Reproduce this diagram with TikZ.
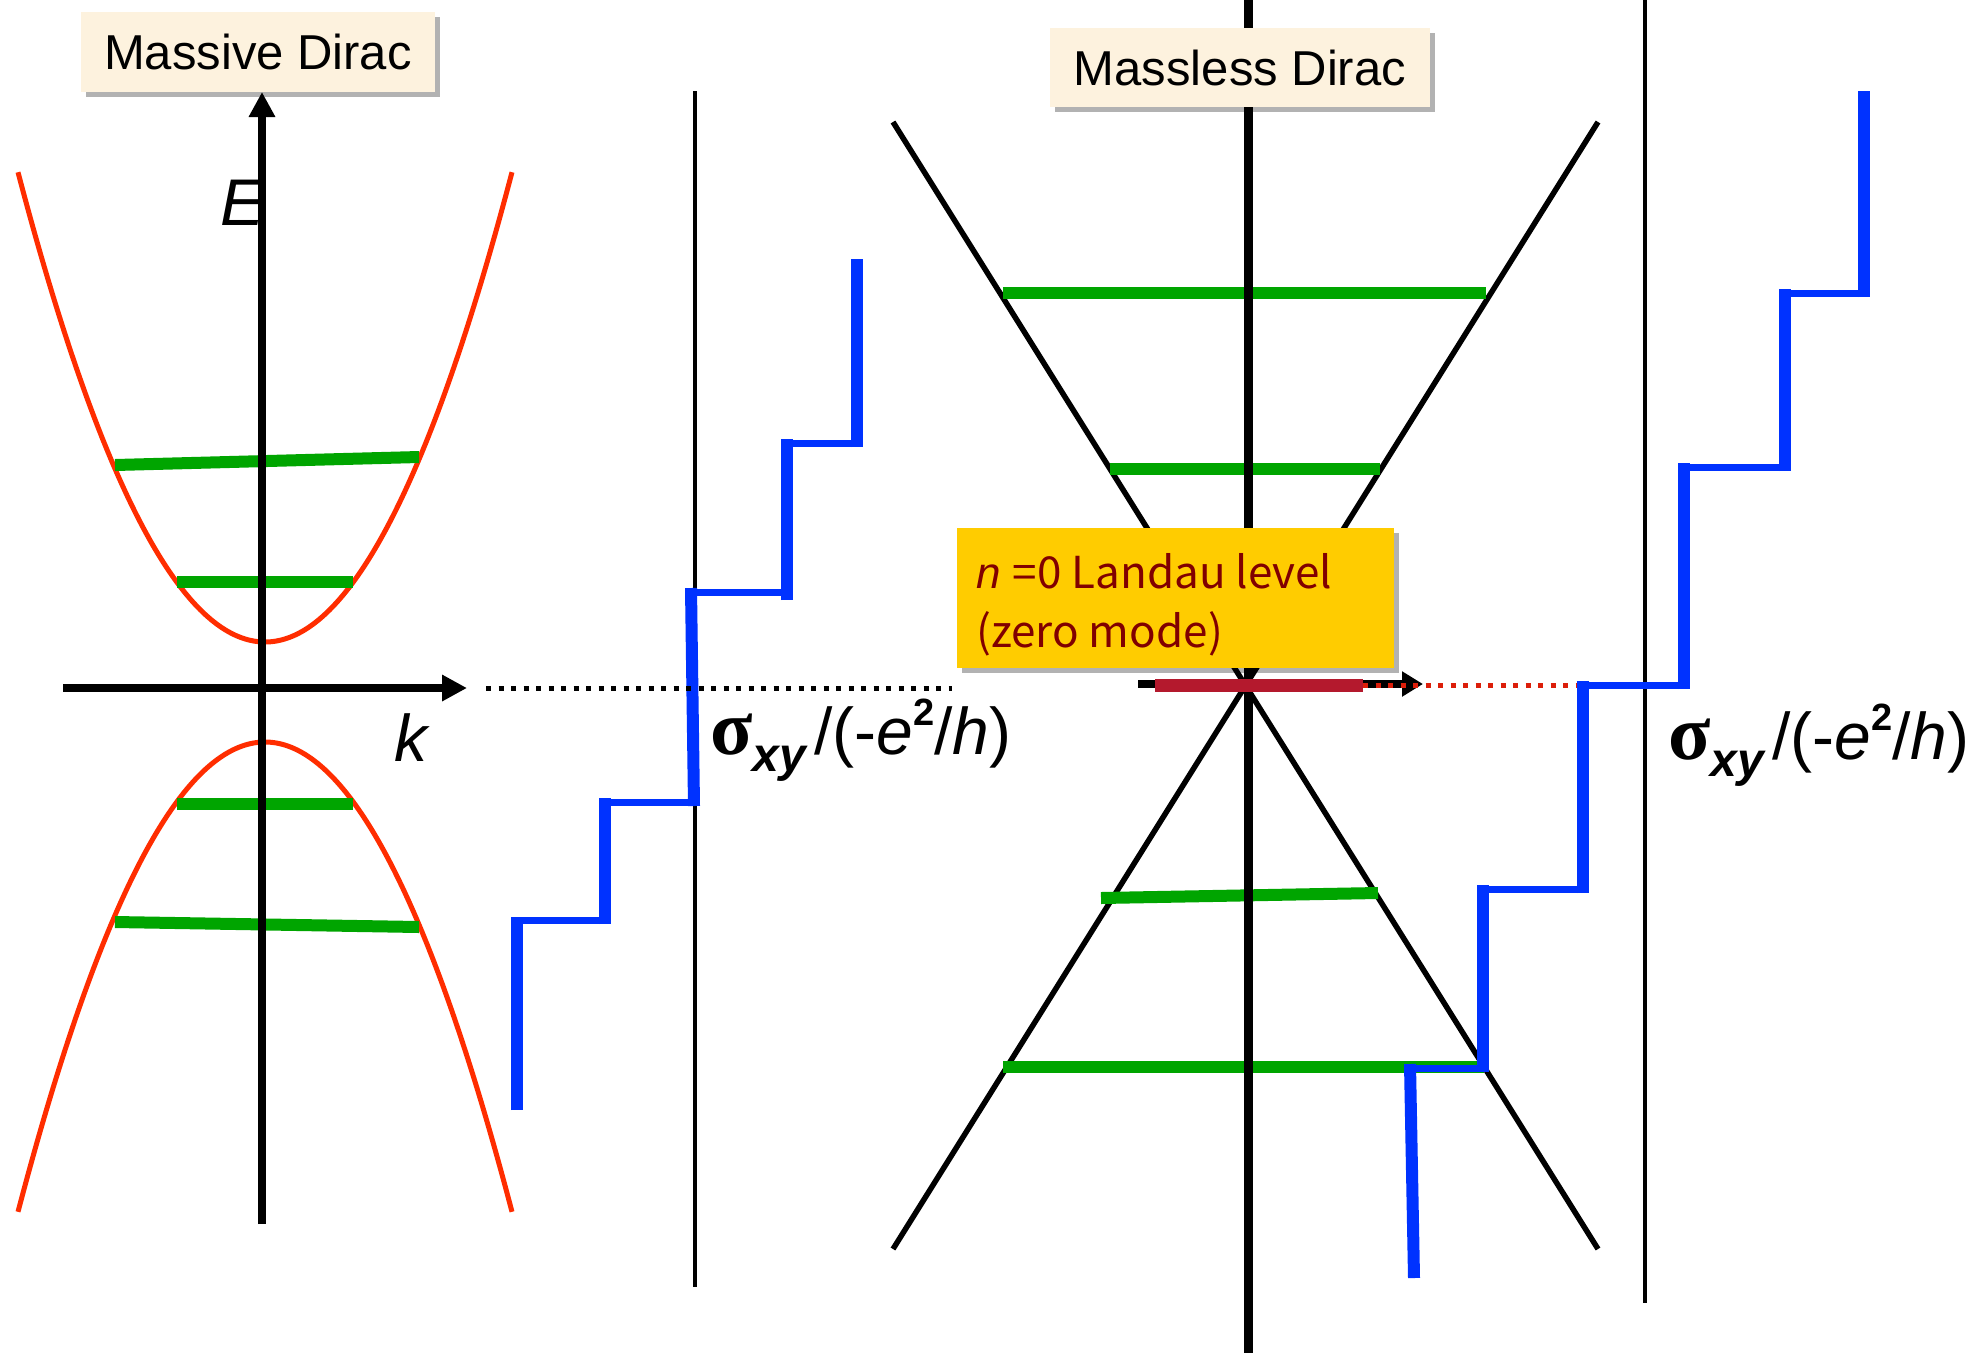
\documentclass[tikz,border=0pt]{standalone}
\usepackage{fontspec}
\setmainfont{Liberation Sans}
\newfontfamily\grk{Liberation Serif}
\newfontfamily\cjk{Noto Sans CJK JP}
\usetikzlibrary{arrows.meta,shadows}
\definecolor{beige}{RGB}{253,242,222}
\definecolor{gold}{RGB}{255,204,0}
\definecolor{maroon}{RGB}{128,0,0}
\definecolor{barred}{RGB}{180,25,45}
\definecolor{curvered}{RGB}{255,45,0}
\definecolor{lvlgreen}{RGB}{0,165,0}
\definecolor{stepblue}{RGB}{0,50,255}
\definecolor{dotred}{RGB}{220,30,10}
\newcommand\sxy{{\grk\bfseries\fontsize{78}{78}\selectfont σ}{\fontsize{48}{48}\selectfont\bfseries\itshape\raisebox{-0.35em}{xy}}\hspace{8pt}{\fontsize{66}{66}\selectfont /(-\textit{e}\raisebox{0.45em}{\fontsize{38}{38}\selectfont\bfseries 2}/\textit{h})}}
\begin{document}
\begin{tikzpicture}[x=1pt,y=-1pt,
  titlebox/.style={fill=beige, minimum height=80pt, inner sep=0pt,
    font=\fontsize{49}{49}\selectfont,
    drop shadow={shadow xshift=5pt, shadow yshift=-5pt, fill=black, opacity=0.3}},
  axisline/.style={line width=8pt, -{Triangle[length=25pt,width=25pt]}},
  thinline/.style={line width=4pt},
  coneline/.style={line width=5.5pt},
  level/.style={line width=12pt, lvlgreen},
  band/.style={line width=5pt, curvered},
  vstep/.style={line width=12pt, stepblue},
  hstep/.style={line width=7pt, stepblue},
  dotline/.style={line width=5pt, dash pattern=on 5pt off 7.5pt},
  axlabel/.style={font=\fontsize{66}{66}\selectfont\itshape, inner sep=0pt}
]
\useasboundingbox (0,0) rectangle (1978,1353);
\fill[white] (0,0) rectangle (1978,1353);

% ---------- thin separator lines
\coordinate (s1t) at (695,91);   \coordinate (s1b) at (695,1287);
\coordinate (s2t) at (1645,0);   \coordinate (s2b) at (1645,1303);
\draw[thinline] (s1t) -- (s1b);
\draw[thinline] (s2t) -- (s2b);

% ---------- left panel: massive Dirac bands
\draw[band] plot[domain=-247:247, samples=101, smooth] ({265+\x}, {642-(0.08775*\x)*(0.08775*\x)});
\draw[band] plot[domain=-247:247, samples=101, smooth] ({265+\x}, {742+(0.08775*\x)*(0.08775*\x)});
\draw[level] (115,465) -- (419,457);
\draw[level] (177,582) -- (353,582);
\draw[level] (177,804) -- (353,804);
\draw[level] (115,922) -- (419,927);

\coordinate (Ebot) at (262,1224); \coordinate (Etop) at (262,92);
\coordinate (kl) at (63,688);     \coordinate (kr) at (467,688);
\draw[axisline] (Ebot) -- (Etop);
\draw[axisline] (kl) -- (kr);
\node[axlabel] (E) at (243,203) {E};
\node[axlabel] (k) at (411,738) {k};

% left staircase
\draw[vstep] (517,1110) -- (517,917);
\draw[hstep] (514,920) -- (608,920);
\draw[vstep] (605,924) -- (605,798);
\draw[hstep] (605,802) -- (694,802);
\draw[vstep] (694,806) -- (691,588);
\draw[hstep] (691,592) -- (790,592);
\draw[vstep] (787,600) -- (787,439);
\draw[hstep] (787,443) -- (858,443);
\draw[vstep] (857,447) -- (857,259);

\coordinate (d1) at (486,688); \coordinate (d2) at (952,688);
\draw[dotline] (d1) -- (d2);

\node[titlebox, minimum width=354pt] (massive) at (258,52) {Massive Dirac};
\node[anchor=west, inner sep=0pt] (sig1) at (710,740) {\sxy};

% ---------- right panel: massless Dirac
\coordinate (c1) at (893,122);  \coordinate (c2) at (1598,1249);
\coordinate (c3) at (1598,122); \coordinate (c4) at (893,1249);
\draw[coneline] (c1) -- (c2);
\draw[coneline] (c3) -- (c4);
\draw[level] (1003,293) -- (1486,293);
\draw[level] (1110,469) -- (1380,469);
\draw[level] (1101,898) -- (1378,893);
\draw[level] (1003,1067) -- (1484,1067);
\coordinate (at) at (1248,0); \coordinate (ab) at (1248,1353);
\draw[line width=9pt] (at) -- (ab);

\node[titlebox, minimum width=380pt, minimum height=79pt] (massless) at (1240,67.5) {Massless Dirac};

\node[fill=gold, minimum width=437pt, minimum height=140pt, inner sep=0pt,
  drop shadow={shadow xshift=5pt, shadow yshift=-5pt, fill=black, opacity=0.3}] (zbox) at (1175.5,598) {};
\node[anchor=base west, inner sep=0pt, text=maroon, align=left,
  font=\fontsize{44}{59}\selectfont] (ztext) at (976,647)
  {\textit{n} {\cjk =0 Landau level}\\{\cjk (zero mode)}};

\coordinate (a1) at (1138,684); \coordinate (a2) at (1423,684);
\draw[line width=8pt, -{Triangle[length=21pt,width=24pt]}] (a1) -- (a2);
\coordinate (b1) at (1155,685.5); \coordinate (b2) at (1363,685.5);
\draw[line width=13pt, barred] (b1) -- (b2);
\coordinate (r2) at (1580,685);
\draw[dotline, dotred] (1363,685) -- (r2);

% right staircase
\draw[vstep] (1414,1278) -- (1410,1064);
\draw[hstep] (1404,1068) -- (1489,1068);
\draw[vstep] (1483,1072) -- (1483,885);
\draw[hstep] (1483,889) -- (1586,889);
\draw[vstep] (1583,893) -- (1583,681);
\draw[hstep] (1577,685) -- (1687,685);
\draw[vstep] (1684,689) -- (1684,463);
\draw[hstep] (1684,467) -- (1788,467);
\draw[vstep] (1785,471) -- (1785,289);
\draw[hstep] (1785,293) -- (1867,293);
\draw[vstep] (1864,297) -- (1864,91);

\node[anchor=west, inner sep=0pt] (sig2) at (1668,745) {\sxy};
\end{tikzpicture}
\end{document}
